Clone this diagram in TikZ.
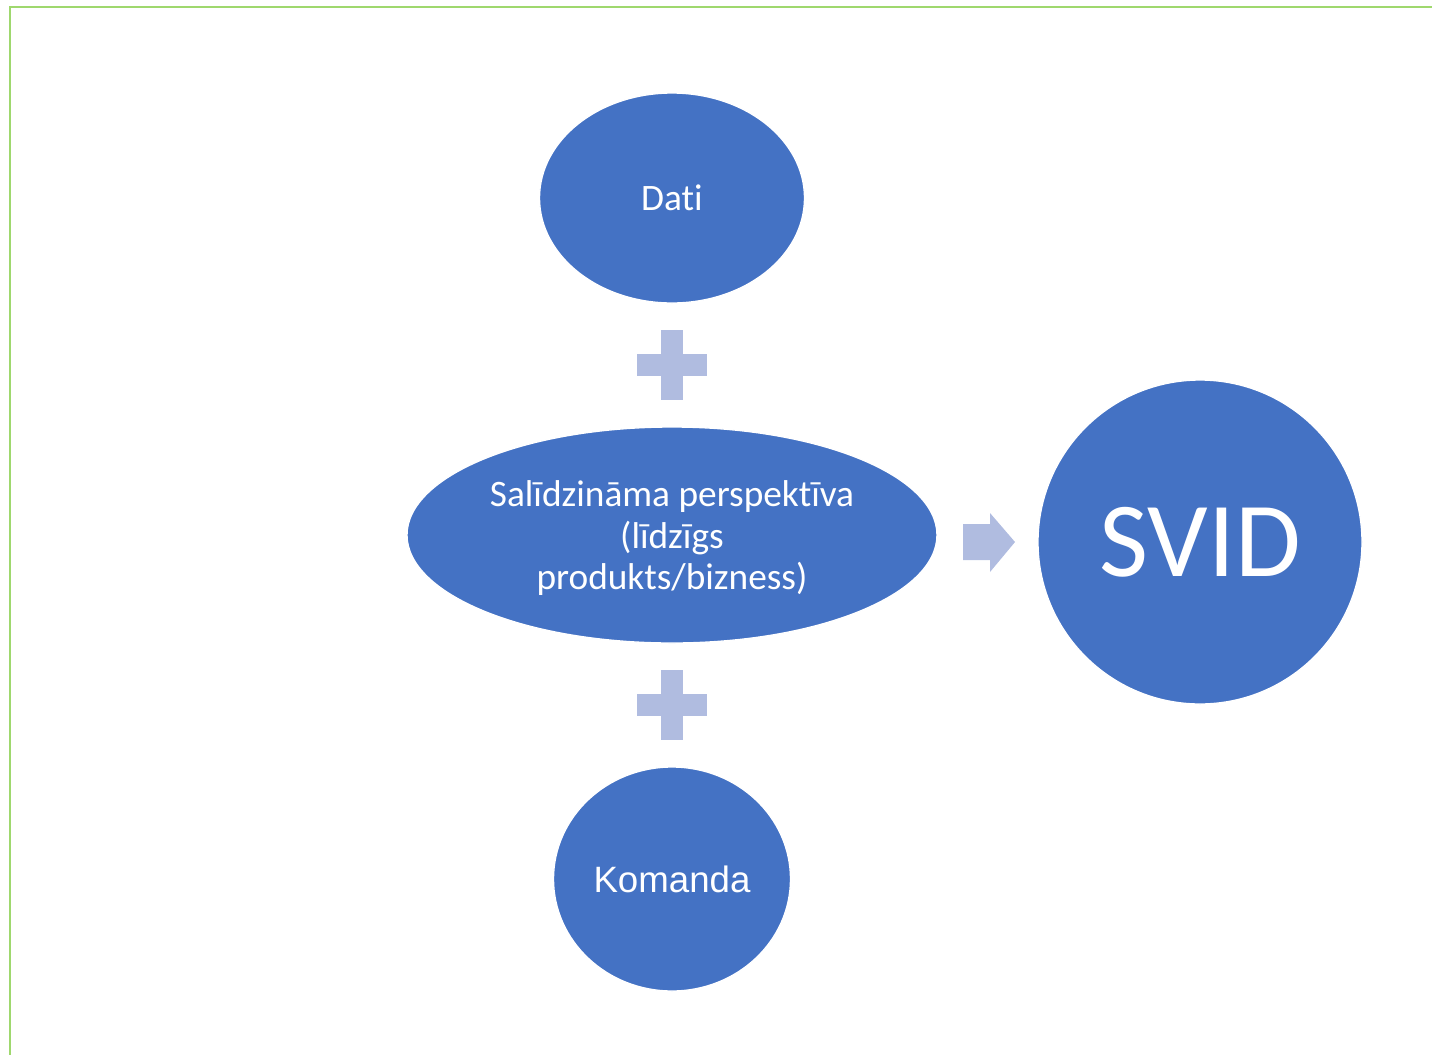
\documentclass[tikz,border=0pt]{standalone}
\usepackage{fontspec}
\setmainfont{Carlito}[Ligatures=NoCommon]
\newfontfamily\arialfont{Liberation Sans}
\usetikzlibrary{shapes.geometric}
\definecolor{nodeblue}{HTML}{4472C4}
\definecolor{signblue}{HTML}{B0BCE0}
\definecolor{framegreen}{HTML}{9FD86E}
\tikzset{
  bubble/.style={ellipse, fill=nodeblue, draw=white, line width=1pt, inner sep=0pt, text=white, align=center},
  sign/.style={fill=signblue, draw=none}
}
\begin{document}
\begin{tikzpicture}[x=0.75pt,y=-0.75pt]
\useasboundingbox (0,0) rectangle (1432,1054);
\clip (0,0) rectangle (1432,1054);
% page frame
\draw[framegreen, line width=1.5pt] (10,7) rectangle (1460,1080);

% bubbles
\node[bubble, minimum width=265*0.75pt, minimum height=210*0.75pt, font=\fontsize{28}{31}\selectfont] (dati) at (672,198) {Dati};
\node[bubble, minimum width=530*0.75pt, minimum height=216*0.75pt] (persp) at (672,535) {};
\node[text=white, align=center, inner sep=0pt, font=\fontsize{28}{31}\selectfont] (perspText) at ([yshift=-2.5pt]persp.center)
  {Salīdzināma perspektīva\\(līdzīgs\\produkts/bizness)};
\node[bubble, minimum width=237*0.75pt, minimum height=224*0.75pt, font=\arialfont\fontsize{27.5}{33}\selectfont] (komanda) at (672,879) {Komanda};
\node[bubble, circle, minimum size=324*0.75pt, font=\fontsize{80}{96}\selectfont] (svid) at (1200,542) {SVID};

% plus signs
\coordinate (plusA) at (672,365);
\coordinate (plusB) at (672,705);
\foreach \p in {plusA,plusB}{
  \fill[sign] ([xshift=-11*0.75pt,yshift=35*0.75pt]\p) rectangle ([xshift=11*0.75pt,yshift=-35*0.75pt]\p);
  \fill[sign] ([xshift=-35*0.75pt,yshift=11*0.75pt]\p) rectangle ([xshift=35*0.75pt,yshift=-11*0.75pt]\p);
}

% arrow towards SVID
\fill[sign] (963,524) -- (990,524) -- (990,513) -- (1015,542) -- (990,572) -- (990,560) -- (963,560) -- cycle;
\end{tikzpicture}
\end{document}
